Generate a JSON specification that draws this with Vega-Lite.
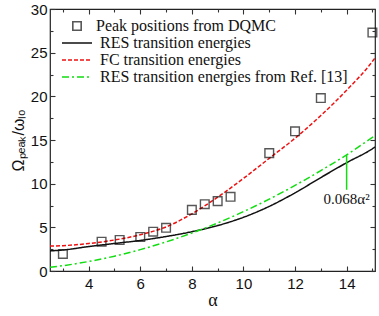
{
  "$schema": "https://vega.github.io/schema/vega-lite/v6.json",
  "width": 325,
  "height": 262,
  "autosize": "none",
  "padding": {"left": 50, "top": 9, "right": 4, "bottom": 45},
  "background": "white",
  "config": {
    "view": {"stroke": "#222", "strokeWidth": 1.2},
    "axis": {
      "grid": false,
      "domain": false,
      "labelFont": "Liberation Sans",
      "labelFontSize": 15,
      "labelColor": "#111",
      "tickColor": "#333",
      "tickWidth": 1.1,
      "titleColor": "#111",
      "titleFontWeight": "normal"
    },
    "legend": {"padding": 0, "labelFont": "Liberation Serif", "labelFontSize": 16, "labelColor": "#111", "labelLimit": 0, "title": null}
  },
  "datasets": {
    "curves": [
      {"series": "RES transition energies", "alpha": 2.5, "value": 2.3},
      {"series": "RES transition energies", "alpha": 3, "value": 2.4},
      {"series": "RES transition energies", "alpha": 4, "value": 2.8},
      {"series": "RES transition energies", "alpha": 5, "value": 3.15},
      {"series": "RES transition energies", "alpha": 6, "value": 3.5},
      {"series": "RES transition energies", "alpha": 7, "value": 3.95},
      {"series": "RES transition energies", "alpha": 8, "value": 4.5},
      {"series": "RES transition energies", "alpha": 9, "value": 5.2},
      {"series": "RES transition energies", "alpha": 10, "value": 6.15},
      {"series": "RES transition energies", "alpha": 11, "value": 7.4},
      {"series": "RES transition energies", "alpha": 12, "value": 8.95},
      {"series": "RES transition energies", "alpha": 13, "value": 10.7},
      {"series": "RES transition energies", "alpha": 14, "value": 12.4},
      {"series": "RES transition energies", "alpha": 15, "value": 14.0},
      {"series": "RES transition energies", "alpha": 15.1, "value": 14.2},
      {"series": "FC transition energies", "alpha": 2.5, "value": 2.85},
      {"series": "FC transition energies", "alpha": 3, "value": 2.9},
      {"series": "FC transition energies", "alpha": 4, "value": 3.15},
      {"series": "FC transition energies", "alpha": 5, "value": 3.55},
      {"series": "FC transition energies", "alpha": 6, "value": 4.15},
      {"series": "FC transition energies", "alpha": 7, "value": 5.05},
      {"series": "FC transition energies", "alpha": 8, "value": 6.55},
      {"series": "FC transition energies", "alpha": 9, "value": 8.45},
      {"series": "FC transition energies", "alpha": 10, "value": 10.6},
      {"series": "FC transition energies", "alpha": 11, "value": 12.9},
      {"series": "FC transition energies", "alpha": 12, "value": 15.2},
      {"series": "FC transition energies", "alpha": 13, "value": 17.8},
      {"series": "FC transition energies", "alpha": 14, "value": 20.7},
      {"series": "FC transition energies", "alpha": 15, "value": 24.0},
      {"series": "FC transition energies", "alpha": 15.1, "value": 24.4},
      {"series": "RES transition energies from Ref. [13]", "alpha": 2.5, "value": 0.43},
      {"series": "RES transition energies from Ref. [13]", "alpha": 3, "value": 0.61},
      {"series": "RES transition energies from Ref. [13]", "alpha": 4, "value": 1.09},
      {"series": "RES transition energies from Ref. [13]", "alpha": 5, "value": 1.7},
      {"series": "RES transition energies from Ref. [13]", "alpha": 6, "value": 2.45},
      {"series": "RES transition energies from Ref. [13]", "alpha": 7, "value": 3.33},
      {"series": "RES transition energies from Ref. [13]", "alpha": 8, "value": 4.35},
      {"series": "RES transition energies from Ref. [13]", "alpha": 9, "value": 5.5},
      {"series": "RES transition energies from Ref. [13]", "alpha": 10, "value": 6.8},
      {"series": "RES transition energies from Ref. [13]", "alpha": 11, "value": 8.23},
      {"series": "RES transition energies from Ref. [13]", "alpha": 12, "value": 9.8},
      {"series": "RES transition energies from Ref. [13]", "alpha": 13, "value": 11.5},
      {"series": "RES transition energies from Ref. [13]", "alpha": 14, "value": 13.3},
      {"series": "RES transition energies from Ref. [13]", "alpha": 15, "value": 15.3},
      {"series": "RES transition energies from Ref. [13]", "alpha": 15.1, "value": 15.5}
    ],
    "peaks": [
      {"kind": "Peak positions from DQMC", "alpha": 3, "value": 1.95},
      {"kind": "Peak positions from DQMC", "alpha": 4.5, "value": 3.35},
      {"kind": "Peak positions from DQMC", "alpha": 5.2, "value": 3.55},
      {"kind": "Peak positions from DQMC", "alpha": 6, "value": 3.9},
      {"kind": "Peak positions from DQMC", "alpha": 6.5, "value": 4.5},
      {"kind": "Peak positions from DQMC", "alpha": 7, "value": 4.95},
      {"kind": "Peak positions from DQMC", "alpha": 8, "value": 7.0},
      {"kind": "Peak positions from DQMC", "alpha": 8.5, "value": 7.65},
      {"kind": "Peak positions from DQMC", "alpha": 9, "value": 8.0},
      {"kind": "Peak positions from DQMC", "alpha": 9.5, "value": 8.5},
      {"kind": "Peak positions from DQMC", "alpha": 11, "value": 13.5},
      {"kind": "Peak positions from DQMC", "alpha": 12, "value": 16.0},
      {"kind": "Peak positions from DQMC", "alpha": 13, "value": 19.8},
      {"kind": "Peak positions from DQMC", "alpha": 15, "value": 27.3}
    ],
    "ann": [
      {"alpha": 14, "y1": 9.3, "y2": 13.3, "ty": 8.2, "label": "0.068α²"}
    ]
  },
  "layer": [
    {
      "data": {"name": "curves"},
      "mark": {"type": "line", "strokeWidth": 1.5, "interpolate": "monotone", "clip": true},
      "encoding": {
        "x": {
          "field": "alpha", "type": "quantitative",
          "scale": {"domain": [2.5, 15.1], "nice": false, "zero": false},
          "axis": {"orient": "bottom", "values": [4, 6, 8, 10, 12, 14], "tickSize": -5, "labelPadding": 10,
                   "title": "α", "titleFont": "Liberation Serif", "titleFontSize": 18, "titlePadding": 0}
        },
        "y": {
          "field": "value", "type": "quantitative",
          "scale": {"domain": [0, 30], "nice": false, "zero": true},
          "axis": {"orient": "left", "values": [0, 5, 10, 15, 20, 25, 30], "tickSize": -5, "labelPadding": 8,
                   "title": "Ωₚₑₐₖ/ωₗₒ", "titleFont": "Liberation Sans", "titleFontSize": 16, "titlePadding": 4}
        },
        "color": {
          "field": "series", "type": "nominal",
          "scale": {"domain": ["RES transition energies", "FC transition energies", "RES transition energies from Ref. [13]"],
                    "range": ["#111111", "#ee1111", "#11dd11"]},
          "legend": {"orient": "none", "legendX": 19, "legendY": 26, "symbolType": "M-3,0H3", "symbolSize": 100,
                     "symbolStrokeWidth": 1.5, "labelOffset": 15, "rowPadding": 1, "title": null}
        },
        "strokeDash": {
          "field": "series", "type": "nominal",
          "scale": {"domain": ["RES transition energies", "FC transition energies", "RES transition energies from Ref. [13]"],
                    "range": [[1, 0], [4, 2], [7, 3, 2, 3]]},
          "legend": {"orient": "none", "legendX": 19, "legendY": 26, "symbolType": "M-3,0H3", "symbolSize": 100,
                     "symbolStrokeWidth": 1.5, "labelOffset": 15, "rowPadding": 1, "title": null}
        }
      }
    },
    {
      "data": {"name": "peaks"},
      "mark": {"type": "point", "shape": "square", "filled": false, "color": "#111", "size": 75, "strokeWidth": 1.4},
      "encoding": {
        "x": {"field": "alpha", "type": "quantitative",
              "axis": {"orient": "top", "values": [4, 6, 8, 10, 12, 14], "tickSize": -5, "labels": false, "title": null}},
        "y": {"field": "value", "type": "quantitative",
              "axis": {"orient": "right", "values": [0, 5, 10, 15, 20, 25, 30], "tickSize": -5, "labels": false, "title": null}},
        "shape": {
          "field": "kind", "type": "nominal",
          "scale": {"range": ["square"]},
          "legend": {"orient": "none", "legendX": 19, "legendY": 9, "symbolSize": 70, "symbolFillColor": "transparent",
                     "symbolStrokeColor": "#111", "symbolStrokeWidth": 1.6, "labelOffset": 11, "title": null}
        }
      }
    },
    {
      "data": {"name": "ann"},
      "mark": {"type": "rule", "color": "#11dd11", "strokeWidth": 1.5},
      "encoding": {
        "x": {"field": "alpha", "type": "quantitative",
              "axis": {"orient": "bottom", "values": [3, 5, 7, 9, 11, 13, 15], "tickSize": -3, "labels": false, "title": null}},
        "y": {"field": "y1", "type": "quantitative",
              "axis": {"orient": "left", "values": [2.5, 7.5, 12.5, 17.5, 22.5, 27.5], "tickSize": -3, "labels": false, "title": null}},
        "y2": {"field": "y2"}
      }
    },
    {
      "data": {"name": "ann"},
      "mark": {"type": "text", "font": "Liberation Serif", "fontSize": 15, "color": "#111", "align": "center", "baseline": "middle"},
      "encoding": {
        "x": {"field": "alpha", "type": "quantitative",
              "axis": {"orient": "top", "values": [3, 5, 7, 9, 11, 13, 15], "tickSize": -3, "labels": false, "title": null}},
        "y": {"field": "ty", "type": "quantitative",
              "axis": {"orient": "right", "values": [2.5, 7.5, 12.5, 17.5, 22.5, 27.5], "tickSize": -3, "labels": false, "title": null}},
        "text": {"field": "label"}
      }
    }
  ],
  "resolve": {"axis": {"x": "independent", "y": "independent"}}
}
